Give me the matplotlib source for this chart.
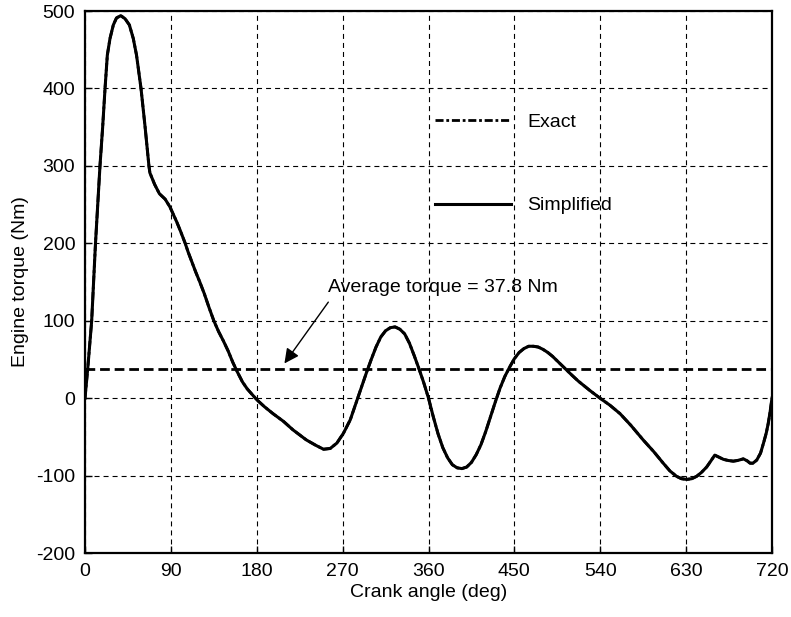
import matplotlib
matplotlib.use("Agg")
import matplotlib.pyplot as plt

plt.rcParams['font.family'] = ['Liberation Sans', 'DejaVu Sans']
plt.rcParams['lines.scale_dashes'] = False
plt.rcParams['axes.unicode_minus'] = False

# Crank angle (deg) and engine torque (Nm) over one 4-stroke cycle
crank_angle = [
    0, 3, 7, 11, 15.7, 18.5, 21, 23.4, 26.2, 29.7, 33, 37.5, 42, 46.5, 50.6,
    54, 58.7, 63, 67, 68, 73, 78, 84, 89, 96, 100, 105, 108, 112, 116, 120,
    125, 130, 135, 140, 145, 150, 155, 160, 165, 170, 175, 180, 188, 197,
    208, 218, 232, 242, 250, 257, 264, 271, 278, 285, 290, 295, 300, 305,
    310, 315, 320, 325, 330, 335, 340, 345, 350, 355, 360, 365, 370, 375,
    380, 385, 390, 395, 400, 405, 410, 415, 420, 425, 430, 435, 440, 445,
    450, 455, 460, 465, 470, 475, 480, 485, 490, 495, 500, 505, 510, 517,
    529, 539.7, 550, 560.7, 572, 585, 596, 606, 613, 620, 625, 630.6, 636,
    641, 646, 651.5, 656, 660, 664, 669, 674, 679.4, 684, 690, 694, 697, 700,
    704, 708, 711, 714, 716, 718, 720,
]
torque = [
    0, 40, 100, 200, 300, 350, 400, 443, 464.5, 482, 491, 494, 490, 482,
    464.5, 443, 400, 350, 300, 291, 276, 264, 257, 247, 228, 216, 200, 189,
    176, 163, 151, 135, 117, 100, 86, 74, 61, 46, 33, 21, 12, 5, -2, -11,
    -20, -30, -41, -54, -61, -66, -65, -58, -45, -28, -3, 15, 33, 50, 66,
    79, 87, 91, 92, 89, 83, 71, 55, 38, 20, 0, -24, -46, -64, -77, -86, -90,
    -91, -89, -83, -73, -60, -43, -24, -5, 13, 28, 40, 51, 59, 64, 67, 67,
    66, 63, 59, 54, 48, 42, 36, 30, 22, 10, 0, -9, -20, -35, -54, -69, -84,
    -94, -101, -104, -105, -104, -101, -96, -89, -81, -73.6, -76, -79, -80.5,
    -81.4, -80.5, -78.4, -81, -84, -84, -80, -71, -58.5, -45, -33, -18, 0,
]
average_torque = 37.8

x_ticks = [0, 90, 180, 270, 360, 450, 540, 630, 720]
y_ticks = [-200, -100, 0, 100, 200, 300, 400, 500]

fig = plt.figure(figsize=(7.91, 6.17), dpi=100)
ax = fig.add_axes([85 / 791, 64 / 617, 687 / 791, 542 / 617])

# The simplified model coincides with the exact curve at this scale
ax.plot(crank_angle, torque, color='black', lw=2.0,
        linestyle=(0, (5.8, 2, 2, 2)), label='Exact', zorder=3)
ax.plot(crank_angle, torque, color='black', lw=2.2, label='Simplified',
        zorder=4)

ax.axhline(average_torque, color='black', lw=2.0,
           linestyle=(0, (7, 3.5)), zorder=2)
ax.text(255, 143, 'Average torque = %.1f Nm' % average_torque, fontsize=14,
        ha='left', va='center')
ax.annotate('', xy=(209, average_torque + 7), xytext=(255, 124),
            arrowprops=dict(arrowstyle='-|>', color='black', lw=1.0,
                            mutation_scale=22, shrinkA=0, shrinkB=0))

ax.set_xlim(0, 720)
ax.set_ylim(-200, 500)
ax.set_xticks(x_ticks)
ax.set_yticks(y_ticks)
ax.tick_params(direction='in', length=5, width=1, labelsize=14, pad=7)
for s in ax.spines.values():
    s.set_linewidth(1.6)
ax.grid(True, color='black', lw=0.8, linestyle=(0, (3.6, 2.9)))
ax.set_axisbelow(True)

ax.set_xlabel('Crank angle (deg)', fontsize=14, labelpad=3)
ax.set_ylabel('Engine torque (Nm)', fontsize=14, labelpad=5)

ax.legend(loc='upper left', bbox_to_anchor=(435 / 791, 1 - 113 / 617),
          bbox_transform=fig.transFigure, frameon=False, fontsize=14,
          handlelength=3.9, handletextpad=0.85, labelspacing=3.4,
          borderpad=0, borderaxespad=0)

fig.savefig('out.png', dpi=100)
